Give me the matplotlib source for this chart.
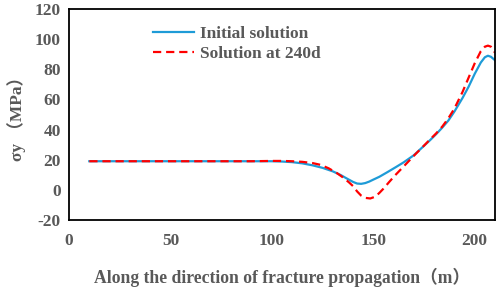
import matplotlib
matplotlib.use("Agg")
import matplotlib.pyplot as plt

# ── Data ──────────────────────────────────────────────────────────────────────
X_INIT = [10, 30, 50, 70, 90, 100, 105, 110, 115, 120, 125, 130, 134, 137, 140,
          142, 144, 146, 148, 150, 153, 157, 161, 165, 170, 174, 178, 181, 184,
          187, 190, 194, 197, 200, 203, 205, 206.5, 208, 210]
Y_INIT = [19, 19, 19, 19, 19, 19, 18.8, 18.4, 17.6, 16.3, 14.6, 12.3, 9.8, 7.5, 5.3,
          4.2, 4.0, 4.5, 5.5, 6.8, 8.7, 11.8, 15.0, 18.3, 23.0, 28.0, 33.0, 37.0, 41.3,
          46.0, 52.0, 61.0, 68.5, 77.0, 84.5, 88.0, 89.0, 88.3, 86.0]

X_240D = [10, 30, 50, 70, 90, 100, 105, 110, 115, 120, 124, 128, 132, 135, 138,
          140, 142, 144, 146, 148.5, 151, 153, 155, 158, 161, 164, 168, 171, 174,
          178, 181, 184, 187, 190, 194, 197, 200, 203, 205, 206.5, 208, 210]
Y_240D = [19, 19, 19, 19, 19, 19.2, 19.2, 19.0, 18.6, 17.8, 16.6, 14.3, 11.2, 8.3, 5.0,
          2.5, -1.0, -3.8, -5.3, -5.7, -4.5, -2.0, 0.8, 5.5, 10.0, 14.2, 19.8, 24.0, 28.0,
          33.5, 37.5, 42.0, 47.5, 54.0, 65.0, 74.5, 84.0, 92.0, 95.0, 95.7, 95.0, 91.0]

X_TICKS = [0, 50, 100, 150, 200]
Y_TICKS = [-20, 0, 20, 40, 60, 80, 100, 120]

TEXT_GREY = "#595959"
FONT = ["Liberation Serif", "Noto Sans CJK SC"]

plt.rcParams["font.family"] = FONT
plt.rcParams["font.weight"] = "bold"
plt.rcParams["axes.unicode_minus"] = False

fig = plt.figure(figsize=(4.98, 2.87), dpi=100)
ax = fig.add_axes([0.1386, 0.2334, 0.8554, 0.7352])

ax.plot(X_INIT, Y_INIT, "-", color="#1e9bd7", linewidth=1.6, label="Initial solution")
ax.plot(X_240D, Y_240D, "--", color="#ff0000", linewidth=1.6, dashes=(3.7, 2.2),
        label="Solution at 240d")

ax.set_xlim(0, 210)
ax.set_ylim(-20, 120)
ax.set_xticks(X_TICKS)
ax.set_yticks(Y_TICKS)
ax.tick_params(length=0, labelsize=12.5, labelcolor=TEXT_GREY, pad=9)
ax.tick_params(axis="y", pad=6)
for lab in ax.get_xticklabels() + ax.get_yticklabels():
    lab.set_fontweight("bold")

for sp in ax.spines.values():
    sp.set_color("black")
    sp.set_linewidth(1.3)

ax.set_xlabel("Along the direction of fracture propagation（m）", fontsize=12.7,
              fontweight="bold", color=TEXT_GREY, labelpad=14)
ax.set_ylabel("σy （MPa）", fontsize=12.5, fontweight="bold", color=TEXT_GREY,
              labelpad=6)

leg = ax.legend(loc="upper left", bbox_to_anchor=(0.16, 0.995), frameon=False,
                fontsize=12.5, handlelength=2.4, handletextpad=0.3, labelspacing=0.25)
for t in leg.get_texts():
    t.set_color(TEXT_GREY)
    t.set_fontweight("bold")

fig.savefig("out.png", dpi=100)
